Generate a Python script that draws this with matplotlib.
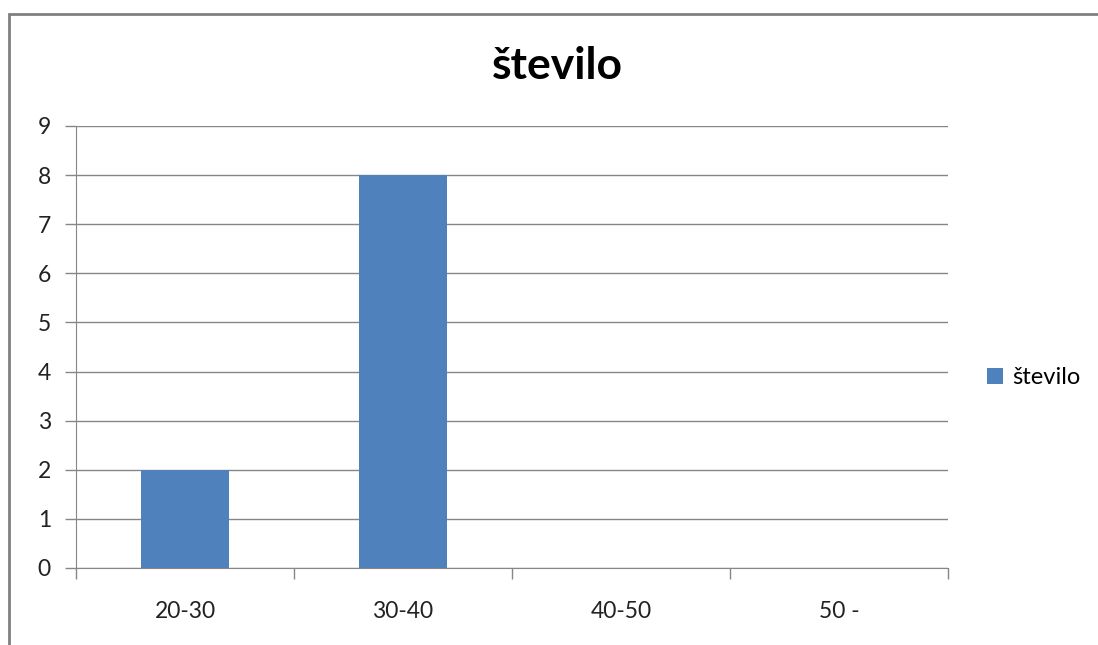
import matplotlib
matplotlib.use('Agg')
import matplotlib.pyplot as plt
from matplotlib.patches import Rectangle

plt.rcParams['font.family'] = ['Lato', 'DejaVu Sans']

# data
categories = ['20-30', '30-40', '40-50', '50 -']
counts = [2, 8, 0, 0]
series_name = 'število'

bar_color = '#4F81BD'
grid_color = '#868686'

fig = plt.figure(figsize=(10.98, 6.45), dpi=100)
ax = fig.add_axes([0.0692, 0.1194, 0.7942, 0.6853])

x = range(len(categories))
ax.bar(x, counts, width=0.4, color=bar_color, label=series_name, zorder=3)

ax.set_xlim(-0.5, len(categories) - 0.5)
ax.set_ylim(0, 9)
ax.set_yticks(range(0, 10))
ax.yaxis.grid(True, color=grid_color, linewidth=1.0, zorder=0)

# category boundaries as tick marks, labels centered under each bar
ax.set_xticks([i - 0.5 for i in range(len(categories) + 1)], minor=False)
ax.set_xticklabels([])
ax.set_xticks(list(x), minor=True)
ax.set_xticklabels(categories, minor=True)
ax.tick_params(axis='x', which='major', length=8, color=grid_color, width=1.0)
ax.tick_params(axis='x', which='minor', length=0, pad=24, labelsize=16.5, labelcolor='#222222')
ax.tick_params(axis='y', length=8, color=grid_color, width=1.0, pad=10,
               labelsize=16.5, labelcolor='#222222')

for side in ['top', 'right']:
    ax.spines[side].set_visible(False)
ax.spines['left'].set_color(grid_color)
ax.spines['bottom'].set_color(grid_color)

fig.suptitle(series_name, x=0.508, y=0.928, fontsize=32, fontweight='bold')

ax.legend(loc='center left', bbox_to_anchor=(1.02, 0.43), frameon=False,
          fontsize=17, handlelength=0.7, handleheight=0.7, handletextpad=0.4)

# chart area border
fig.patches.append(Rectangle((8.5 / 1098, -0.1), 1.2, 1.1 - 14 / 645,
                             transform=fig.transFigure, fill=False,
                             edgecolor='#808080', linewidth=2.0))

fig.savefig('out.png', dpi=100, facecolor='white')
